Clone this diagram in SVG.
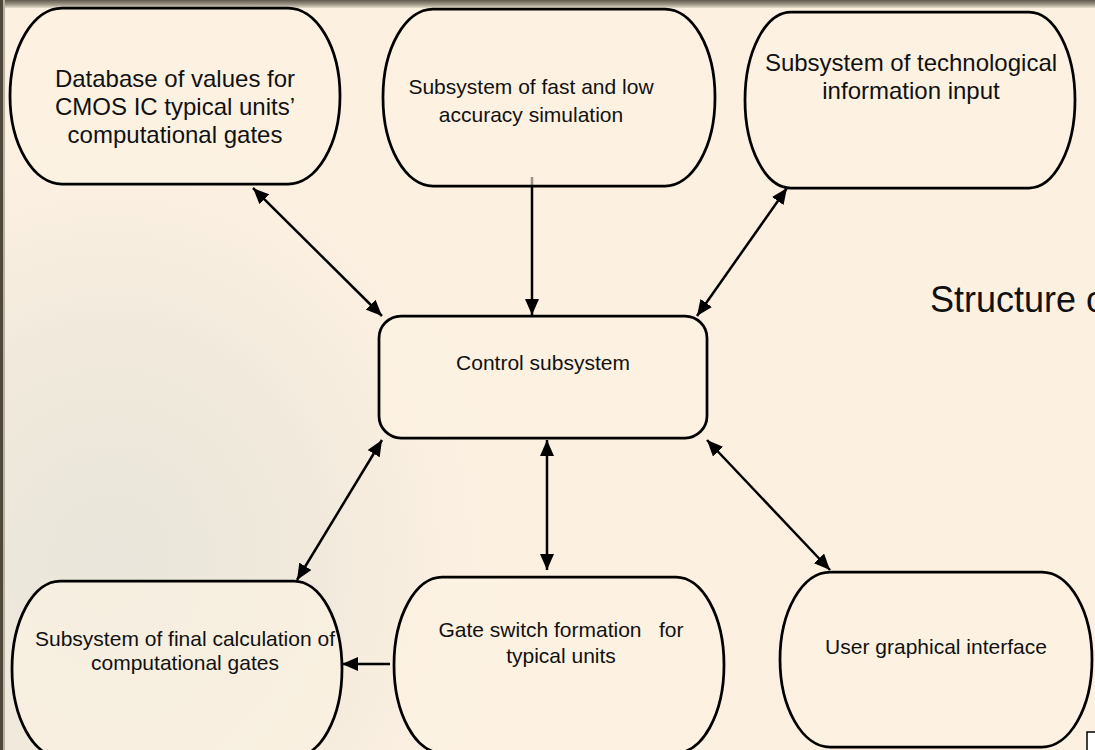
<svg xmlns="http://www.w3.org/2000/svg" width="1095" height="750" viewBox="0 0 1095 750">
  <defs>
    <style>
      .node { fill: #FEF3E3; fill-opacity: 0.6; stroke: #000; stroke-width: 2.75; }
      .t24 { font-family: "Liberation Sans", Arial, sans-serif; font-size: 24px; fill: #111; text-anchor: middle; }
      .t21 { font-family: "Liberation Sans", Arial, sans-serif; font-size: 21px; fill: #111; text-anchor: middle; }
      .title { font-family: "Liberation Sans", Arial, sans-serif; font-size: 36px; fill: #111; }
      .conn { stroke: #000; stroke-width: 2.5; fill: none; }
    </style>
    <marker id="ah" viewBox="0 0 16 14" refX="16" refY="7" markerWidth="16" markerHeight="14" orient="auto-start-reverse" markerUnits="userSpaceOnUse">
      <path d="M0,0 L16,7 L0,14 z" fill="#000"/>
    </marker>
    <linearGradient id="topband" x1="0" y1="0" x2="0" y2="1">
      <stop offset="0" stop-color="#5E584C"/>
      <stop offset="0.6" stop-color="#A49C8C"/>
      <stop offset="1" stop-color="#E8DFCF"/>
    </linearGradient>
    <radialGradient id="fade" cx="110" cy="560" r="430" gradientUnits="userSpaceOnUse" gradientTransform="translate(110 560) scale(1 1.1) translate(-110 -560)">
      <stop offset="0" stop-color="#E8E5DA" stop-opacity="0.95"/>
      <stop offset="0.5" stop-color="#ECE7DA" stop-opacity="0.7"/>
      <stop offset="1" stop-color="#FCF0E1" stop-opacity="0"/>
    </radialGradient>
  </defs>

  <!-- background -->
  <rect x="0" y="0" width="1095" height="750" fill="#FCF0E1"/>
  <rect x="0" y="0" width="1095" height="750" fill="url(#fade)"/>
  <rect x="0" y="0" width="1095" height="8" fill="url(#topband)"/>
  <rect x="0" y="0" width="3" height="750" fill="#4E473A"/>
  <rect x="3" y="0" width="2" height="750" fill="#B8B0A0"/>

  <g id="connectors">
    <line class="conn" x1="253" y1="188" x2="382" y2="316" marker-start="url(#ah)" marker-end="url(#ah)"/>
    <line class="conn" x1="532" y1="177" x2="532" y2="315" marker-end="url(#ah)"/>
    <line class="conn" x1="787" y1="188" x2="697" y2="316" marker-start="url(#ah)" marker-end="url(#ah)"/>
    <line class="conn" x1="382" y1="440" x2="297" y2="580" marker-start="url(#ah)" marker-end="url(#ah)"/>
    <line class="conn" x1="547" y1="440" x2="547" y2="570" marker-start="url(#ah)" marker-end="url(#ah)"/>
    <line class="conn" x1="707" y1="440" x2="830" y2="570" marker-start="url(#ah)" marker-end="url(#ah)"/>
    <line class="conn" x1="390" y1="664" x2="342" y2="664" marker-end="url(#ah)"/>
  </g>

  <g id="node-database">
    <rect class="node" x="10" y="8" width="330" height="176" rx="52" ry="88"/>
    <text class="t24" x="175" y="87">Database of values for</text>
    <text class="t24" x="175" y="115">CMOS IC typical units’</text>
    <text class="t24" x="175" y="143">computational gates</text>
  </g>

  <g id="node-fast-sim">
    <rect class="node" x="383" y="9" width="332" height="177" rx="50" ry="88"/>
    <text class="t21" x="531" y="94">Subsystem of fast and low</text>
    <text class="t21" x="531" y="122">accuracy simulation</text>
  </g>

  <g id="node-tech-input">
    <rect class="node" x="745" y="12" width="330" height="176" rx="46" ry="88"/>
    <text class="t24" x="911" y="71">Subsystem of technological</text>
    <text class="t24" x="911" y="99">information input</text>
  </g>

  <g id="node-control">
    <rect class="node" x="379" y="316" width="328" height="122" rx="22" ry="22"/>
    <text class="t21" x="543" y="370">Control subsystem</text>
  </g>

  <g id="node-final-calc">
    <rect class="node" x="12" y="581" width="330" height="176" rx="48" ry="88"/>
    <text class="t21" x="185" y="646">Subsystem of final calculation of</text>
    <text class="t21" x="185" y="670">computational gates</text>
  </g>

  <g id="node-gate-switch">
    <rect class="node" x="394" y="577" width="330" height="176" rx="48" ry="88"/>
    <text class="t21" x="561" y="637" xml:space="preserve">Gate switch formation   for</text>
    <text class="t21" x="561" y="663">typical units</text>
  </g>

  <g id="node-gui">
    <rect class="node" x="780" y="572" width="312" height="175" rx="50" ry="88"/>
    <text class="t21" x="936" y="654">User graphical interface</text>
  </g>

  <g id="title">
    <text class="title" x="930" y="312">Structure o</text>
  </g>

  <rect x="1087" y="732" width="20" height="30" fill="#FFFFFF" stroke="#000" stroke-width="1.5"/>
</svg>
